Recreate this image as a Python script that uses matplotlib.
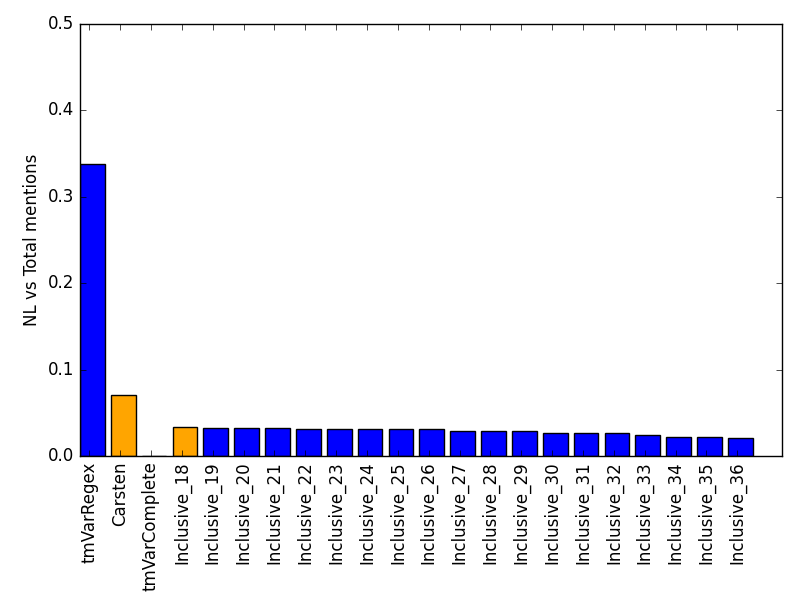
import matplotlib
matplotlib.use("Agg")
import matplotlib.pyplot as plt
import numpy as np

plt.style.use("classic")

labels = ["tmVarRegex", "Carsten", "tmVarComplete",
          "Inclusive_18", "Inclusive_19", "Inclusive_20", "Inclusive_21",
          "Inclusive_22", "Inclusive_23", "Inclusive_24", "Inclusive_25",
          "Inclusive_26", "Inclusive_27", "Inclusive_28", "Inclusive_29",
          "Inclusive_30", "Inclusive_31", "Inclusive_32", "Inclusive_33",
          "Inclusive_34", "Inclusive_35", "Inclusive_36"]
values = [0.338, 0.0706, 0.0003,
          0.0333, 0.0322, 0.0322, 0.0321,
          0.0310, 0.0310, 0.0310, 0.0310,
          0.0310, 0.0290, 0.0290, 0.0290,
          0.0267, 0.0267, 0.0267, 0.0243,
          0.0222, 0.0222, 0.0206]
colors = ["blue", "orange", "blue", "orange"] + ["blue"] * 18

fig = plt.figure(figsize=(8, 6))
fig.patch.set_facecolor("white")
ax = fig.add_axes([0.1, 0.24, 0.8775, 0.72])

x = np.arange(len(labels))
ax.bar(x, values, width=0.8, align="edge", color=colors, edgecolor="black")
ax.set_xticks(x + 0.3)
ax.set_xticklabels(labels, rotation=90)
ax.set_xlim(0, 22.75)
ax.set_ylim(0, 0.5)
ax.set_ylabel("NL vs Total mentions")

fig.savefig("out.png", dpi=100, facecolor="white")
